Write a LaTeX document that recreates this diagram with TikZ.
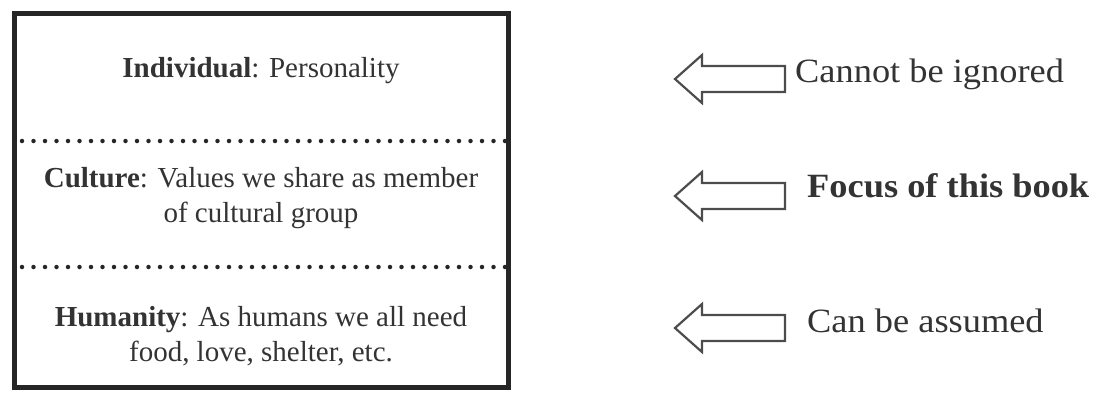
\documentclass[tikz,border=0pt]{standalone}
\usepackage{fontspec}
\setmainfont{Liberation Serif}
\begin{document}
\begin{tikzpicture}[x=1pt,y=-1pt,
  lefttext/.style={font=\fontsize{29}{35}\selectfont, text=black!80, align=center},
  righttext/.style={font=\fontsize{34}{38}\selectfont, text=black!80, anchor=base west, inner sep=0pt, xscale=1.07},
  dotrule/.style={line width=4.5pt, line cap=round, dash pattern=on 0pt off 11.5pt, draw=black!85},
  blockarrow/.style={draw=black!70, line width=2.2pt, line join=miter}]
\useasboundingbox (0,0) rectangle (1093,392);

% outer frame
\node[draw=black!85, line width=5pt, minimum width=494pt, minimum height=374pt, inner sep=0pt] (frame) at (261,200) {};

% dotted separators
\coordinate (d1l) at (22,141);
\coordinate (d1r) at (505,141);
\coordinate (d2l) at (22,267);
\coordinate (d2r) at (505,267);
\draw[dotrule] (d1l) -- (d1r);
\draw[dotrule] (d2l) -- (d2r);

% layer texts
\node[lefttext] (indiv) at (261,71) {\textbf{Individual}: Personality};
\node[lefttext] (cult) at (261,198) {\textbf{Culture}: Values we share as member\\of cultural group};
\node[lefttext] (human) at (261,336) {\textbf{Humanity}: As humans we all need\\food, love, shelter, etc.};

% hollow arrows pointing at the layers
\coordinate (tip1) at (675,79);
\coordinate (tip2) at (675,196);
\coordinate (tip3) at (675,328);
\foreach \t in {tip1,tip2,tip3}{
  \draw[blockarrow] (\t) -- ++(27,-24) -- ++(0,11) -- ++(83,0) -- ++(0,26) -- ++(-83,0) -- ++(0,11) -- cycle;
}

% comments on the right
\node[righttext] (c1) at (795,82) {Cannot be ignored};
\node[righttext] (c2) at (807,197) {\textbf{Focus of this book}};
\node[righttext] (c3) at (807,332) {Can be assumed};
\end{tikzpicture}
\end{document}
